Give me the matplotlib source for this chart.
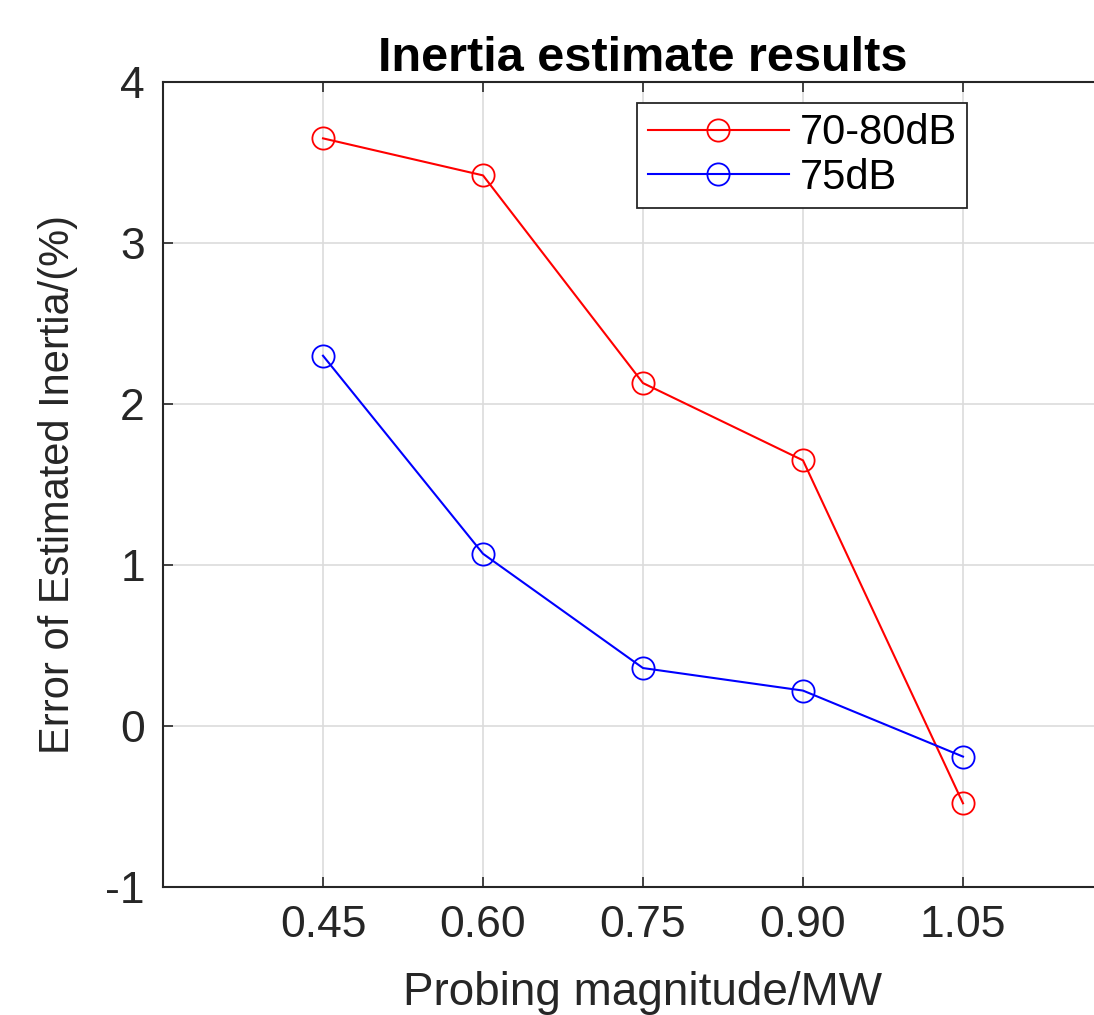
import numpy as np
import matplotlib.pyplot as plt

plt.rcParams['font.family'] = ['Liberation Sans', 'DejaVu Sans']
plt.rcParams['axes.unicode_minus'] = False

probing = [0.45, 0.60, 0.75, 0.90, 1.05]
err_70_80 = [3.65, 3.42, 2.13, 1.65, -0.48]
err_75 = [2.30, 1.07, 0.36, 0.22, -0.19]
xtick_labels = ['0.45', '0.60', '0.75', '0.90', '1.05']
yticks = [-1, 0, 1, 2, 3, 4]

fig = plt.figure(figsize=(10.94, 10.15), dpi=100)
ax = fig.add_axes([0.149, 0.1261, 0.8775, 0.7931])

ax.plot(probing, err_70_80, color='#ff0000', lw=1.5, marker='o', ms=16,
        mfc='none', mec='#ff0000', mew=1.3, label='70-80dB')
ax.plot(probing, err_75, color='#0000ff', lw=1.5, marker='o', ms=16,
        mfc='none', mec='#0000ff', mew=1.3, label='75dB')

ax.set_xlim(0.30, 1.20)
ax.set_ylim(-1, 4)
ax.set_xticks(probing)
ax.set_xticklabels(xtick_labels)
ax.set_yticks(yticks)
ax.grid(True, color='#dcdcdc', lw=1.2)
ax.set_axisbelow(True)
ax.tick_params(direction='in', length=7, width=1.2, top=True, right=True,
               labelsize=32, colors='#262626', pad=13)
for s in ax.spines.values():
    s.set_color('#262626')
    s.set_linewidth(1.5)

ax.set_xlabel('Probing magnitude/MW', fontsize=33, color='#262626', labelpad=18)
ax.set_ylabel('Error of Estimated Inertia/(%)', fontsize=30, color='#262626', labelpad=20)
ax.set_title('Inertia estimate results', fontsize=35, fontweight='bold', pad=8)

leg = ax.legend(loc='upper left', bbox_to_anchor=(0.494, 0.974), fontsize=30,
                fancybox=False, framealpha=1, edgecolor='#262626',
                borderaxespad=0, handlelength=3.4, borderpad=0.25,
                labelspacing=0.1, handletextpad=0.25)
leg.get_frame().set_linewidth(1.3)

fig.savefig('out.png', dpi=100)
